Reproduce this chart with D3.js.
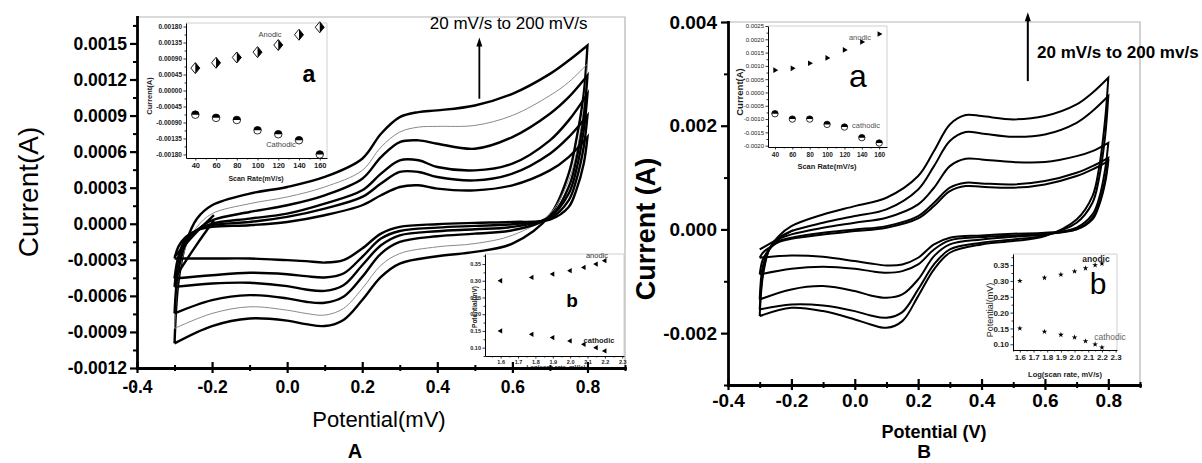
<!DOCTYPE html>
<html><head><meta charset="utf-8">
<script src="https://cdn.jsdelivr.net/npm/d3@7"></script>
<style>
html,body{margin:0;padding:0;background:#fff;}
svg{display:block;}
</style></head><body>
<svg id="chart" width="1202" height="463"></svg>
<script>
// ---------------- DATA ----------------
// potentials (V) of forward (anodic) and reverse (cathodic) sweeps
const potentialForward = [-0.3, -0.29, -0.27, -0.24, -0.2, -0.1, 0.0, 0.1, 0.2, 0.25, 0.3, 0.35, 0.4, 0.5, 0.6, 0.7, 0.75, 0.8];
const potentialReverse = [0.8, 0.79, 0.77, 0.75, 0.7, 0.6, 0.5, 0.4, 0.3, 0.25, 0.2, 0.15, 0.1, 0.05, 0.0, -0.1, -0.2, -0.3];

// Panel A currents (mA), one row per scan rate (largest first)
const cvA_forward_mA = [
  [-0.995, -0.497, -0.165, 0.043, 0.154, 0.251, 0.306, 0.389, 0.541, 0.749, 0.887, 0.929, 0.943, 0.984, 1.081, 1.247, 1.358, 1.483],
  [-0.871, -0.442, -0.192, -0.026, 0.084, 0.167, 0.223, 0.306, 0.444, 0.638, 0.763, 0.804, 0.810, 0.818, 0.901, 1.067, 1.178, 1.330],
  [-0.746, -0.386, -0.165, -0.054, 0.029, 0.098, 0.154, 0.237, 0.375, 0.555, 0.680, 0.694, 0.666, 0.624, 0.721, 0.915, 1.053, 1.233],
  [-0.525, -0.303, -0.137, -0.054, 0.001, 0.043, 0.084, 0.167, 0.278, 0.417, 0.528, 0.528, 0.472, 0.444, 0.500, 0.694, 0.860, 1.081],
  [-0.455, -0.275, -0.123, -0.054, -0.012, 0.015, 0.057, 0.126, 0.223, 0.334, 0.431, 0.431, 0.389, 0.361, 0.417, 0.583, 0.721, 0.901],
  [-0.289, -0.192, -0.109, -0.054, -0.026, -0.012, 0.015, 0.071, 0.154, 0.237, 0.306, 0.320, 0.292, 0.278, 0.320, 0.444, 0.555, 0.721]
];
const cvA_reverse_mA = [
  [1.483, 1.081, 0.694, 0.417, 0.071, -0.165, -0.234, -0.270, -0.331, -0.442, -0.635, -0.800, -0.851, -0.835, -0.806, -0.788, -0.851, -0.995],
  [1.330, 0.970, 0.583, 0.361, 0.084, -0.096, -0.165, -0.192, -0.248, -0.345, -0.539, -0.705, -0.760, -0.746, -0.719, -0.691, -0.746, -0.871],
  [1.233, 0.887, 0.528, 0.306, 0.057, -0.054, -0.082, -0.104, -0.151, -0.248, -0.442, -0.607, -0.657, -0.649, -0.621, -0.594, -0.635, -0.746],
  [1.081, 0.777, 0.444, 0.251, 0.057, -0.026, -0.046, -0.062, -0.096, -0.179, -0.345, -0.511, -0.558, -0.547, -0.519, -0.491, -0.497, -0.525],
  [0.901, 0.638, 0.361, 0.195, 0.043, -0.004, -0.018, -0.032, -0.060, -0.123, -0.275, -0.414, -0.447, -0.436, -0.420, -0.408, -0.428, -0.455],
  [0.721, 0.500, 0.278, 0.140, 0.035, 0.015, 0.007, -0.004, -0.026, -0.082, -0.206, -0.303, -0.323, -0.311, -0.303, -0.289, -0.289, -0.289]
];
// start-of-scan hooks near -0.2 V
const hookPotential = [-0.195, -0.245, -0.3];
const hookA_mA = [[0.071, -0.082, -0.275], [0.029, -0.192, -0.455]];

// Panel B currents (mA)
const cvB_forward_mA = [
  [-1.671, -0.900, -0.386, -0.129, 0.064, 0.289, 0.450, 0.611, 1.029, 1.511, 2.025, 2.205, 2.186, 2.122, 2.186, 2.411, 2.636, 2.925],
  [-1.543, -0.836, -0.386, -0.161, -0.032, 0.129, 0.257, 0.386, 0.771, 1.221, 1.704, 1.877, 1.852, 1.787, 1.832, 2.057, 2.282, 2.572],
  [-1.350, -0.707, -0.386, -0.193, -0.096, 0.032, 0.129, 0.225, 0.482, 0.804, 1.221, 1.363, 1.350, 1.299, 1.299, 1.414, 1.511, 1.671],
  [-0.868, -0.579, -0.386, -0.225, -0.161, -0.064, 0.000, 0.064, 0.257, 0.514, 0.804, 0.900, 0.887, 0.868, 0.932, 1.093, 1.221, 1.382],
  [-0.546, -0.450, -0.354, -0.244, -0.180, -0.096, -0.032, 0.032, 0.212, 0.450, 0.739, 0.836, 0.823, 0.804, 0.868, 1.029, 1.157, 1.318]
];
const cvB_reverse_mA = [
  [2.925, 2.122, 1.157, 0.643, 0.193, -0.129, -0.225, -0.289, -0.450, -0.771, -1.286, -1.768, -1.897, -1.832, -1.736, -1.575, -1.511, -1.671],
  [2.572, 1.800, 0.964, 0.514, 0.129, -0.116, -0.193, -0.257, -0.386, -0.675, -1.157, -1.594, -1.704, -1.659, -1.575, -1.466, -1.446, -1.543],
  [1.671, 1.157, 0.579, 0.289, 0.032, -0.096, -0.141, -0.193, -0.289, -0.514, -0.964, -1.254, -1.318, -1.273, -1.189, -1.093, -1.157, -1.350],
  [1.382, 0.964, 0.482, 0.225, 0.000, -0.084, -0.116, -0.148, -0.212, -0.386, -0.675, -0.804, -0.836, -0.804, -0.759, -0.720, -0.759, -0.868],
  [1.318, 0.900, 0.450, 0.193, 0.000, -0.064, -0.084, -0.116, -0.161, -0.289, -0.546, -0.675, -0.694, -0.656, -0.611, -0.527, -0.501, -0.546]
];
const hookB_mA = [[-0.013, -0.193, -0.386]];

// insets
const scanRates = [40, 60, 80, 100, 120, 140, 160];
const logScanRates = [1.6, 1.78, 1.9, 2.0, 2.08, 2.15, 2.2];
const insetAa_anodic = [0.00063, 0.00078, 0.00093, 0.00108, 0.00128, 0.00157, 0.00178];
const insetAa_cathodic = [-0.00068, -0.00077, -0.00083, -0.00112, -0.00123, -0.0014, -0.0018];
const insetAb_anodic = [0.30, 0.31, 0.32, 0.33, 0.34, 0.35, 0.36];
const insetAb_cathodic = [0.15, 0.14, 0.13, 0.12, 0.11, 0.10, 0.09];
const insetBa_anodic = [0.00084, 0.00091, 0.0011, 0.0013, 0.0016, 0.0019, 0.0022];
const insetBa_cathodic = [-0.0008, -0.001, -0.001, -0.0012, -0.0013, -0.0017, -0.0019];
const insetBb_anodic = [0.30, 0.31, 0.32, 0.33, 0.34, 0.35, 0.355];
const insetBb_cathodic = [0.15, 0.14, 0.13, 0.122, 0.11, 0.10, 0.09];

// tick values
const ticksPotential = [-0.4, -0.2, 0.0, 0.2, 0.4, 0.6, 0.8];
const ticksPotentialMinor = [-0.3, -0.1, 0.1, 0.3, 0.5, 0.7, 0.9];
const ticksA_current = [-0.0012, -0.0009, -0.0006, -0.0003, 0, 0.0003, 0.0006, 0.0009, 0.0012, 0.0015];
const ticksB_current = [-0.002, 0, 0.002, 0.004];
const ticksB_currentMinor = [-0.003, -0.001, 0.001, 0.003];
const ticksAa_y = [-0.0018, -0.00135, -0.0009, -0.00045, 0, 0.00045, 0.0009, 0.00135, 0.0018];
const ticksBa_y = [-0.002, -0.0015, -0.001, -0.0005, 0, 0.0005, 0.001, 0.0015, 0.002, 0.0025];
const ticksScan = [40, 60, 80, 100, 120, 140, 160];
const ticksLog = [1.6, 1.7, 1.8, 1.9, 2.0, 2.1, 2.2, 2.3];
const ticksLogPot = [0.10, 0.15, 0.20, 0.25, 0.30, 0.35];

// annotation arrows: potential, base current, tip current
const arrowA = [0.512, 0.00104, 0.00155];
const arrowB = [0.546, 0.00286, 0.00419];

// ---------------- DRAWING ----------------
const FONT = "Arial, 'Liberation Sans', Helvetica, sans-serif";
const fmt = d3.formatLocale({decimal: ".", thousands: ",", grouping: [3], currency: ["", ""], minus: "-"}).format;
const svg = d3.select("#chart").attr("font-family", FONT);

function mids(a) {
  const m = d3.pairs(a, (p, q) => (p + q) / 2);
  m.unshift(a[0] - (a[1] - a[0]) / 2);
  m.push(a[a.length - 1] + (a[1] - a[0]) / 2);
  return m;
}

function catLine(x, y) {
  return d3.line().x(d => x(d[0])).y(d => y(d[1])).curve(d3.curveCatmullRom.alpha(0.5));
}

function loopPath(x, y, fwd, rev) {
  const line = catLine(x, y);
  const a = line(potentialForward.map((e, j) => [e, fwd[j] / 1000]));
  const b = line(potentialReverse.map((e, j) => [e, rev[j] / 1000]));
  return a + "L" + b.slice(1);
}

function mainPanel(o) {
  const x = d3.scaleLinear().domain(o.xDomain).range([o.left, o.right]);
  const y = d3.scaleLinear().domain(o.yDomain).range([o.bottom, o.top]);
  const g = svg.append("g");
  g.append("path").attr("d", `M${o.left},${o.top}H${o.right}V${o.bottom}`)
    .attr("fill", "none").attr("stroke", "#b5b5b5").attr("stroke-width", 1.2);
  const cg = g.append("g").attr("fill", "none").attr("stroke-linejoin", "miter").attr("stroke-miterlimit", 30);
  o.fwd.forEach((f, i) => {
    const thin = o.thinIndex === i;
    cg.append("path").attr("d", loopPath(x, y, f, o.rev[i]))
      .attr("stroke", thin ? "#8a8a8a" : "#000").attr("stroke-width", thin ? 1 : o.lw);
  });
  const hl = catLine(x, y);
  o.hooks.forEach(h => {
    cg.append("path").attr("d", hl(hookPotential.map((e, j) => [e, h[j] / 1000])))
      .attr("stroke", "#000").attr("stroke-width", o.lw);
  });
  return {x, y, g};
}

function mainAxes(p, o) {
  const {x, y} = p;
  const ax = svg.append("g").attr("font-family", FONT);
  const ym = ax.append("g").attr("transform", `translate(${o.left},0)`)
    .call(d3.axisLeft(y).tickValues(o.yMinor).tickFormat("").tickSize(o.minorLen).tickSizeOuter(0));
  ym.select(".domain").remove();
  ym.selectAll(".tick line").attr("stroke-width", 2);
  const xm = ax.append("g").attr("transform", `translate(0,${o.bottom})`)
    .call(d3.axisBottom(x).tickValues(ticksPotentialMinor).tickFormat("").tickSize(3).tickSizeOuter(0));
  xm.select(".domain").remove();
  xm.selectAll(".tick line").attr("y1", -3).attr("stroke-width", 2);
  const ya = ax.append("g").attr("transform", `translate(${o.left},0)`)
    .call(d3.axisLeft(y).tickValues(o.yTicks).tickFormat(fmt(o.yFmt)).tickSize(o.majorLen).tickSizeOuter(0).tickPadding(o.yPad));
  ya.select(".domain").attr("stroke-width", 2.8).attr("stroke-linecap", "square");
  ya.selectAll(".tick line").attr("stroke-width", 2.2);
  ya.selectAll(".tick text").attr("font-size", o.tickFs).attr("font-weight", "bold").attr("font-family", FONT).attr("fill", "#000");
  const xa = ax.append("g").attr("transform", `translate(0,${o.bottom})`)
    .call(d3.axisBottom(x).tickValues(ticksPotential).tickFormat(fmt(".1f")).tickSize(5).tickSizeOuter(0).tickPadding(o.xPad));
  xa.select(".domain").attr("stroke-width", 2.8).attr("stroke-linecap", "square");
  xa.selectAll(".tick line").attr("y1", -6).attr("stroke-width", 2.2);
  xa.selectAll(".tick text").attr("font-size", o.tickFs).attr("font-weight", "bold").attr("font-family", FONT).attr("fill", "#000");
}

function arrow(p, a, w) {
  const px = p.x(a[0]), y0 = p.y(a[1]), y1 = p.y(a[2]);
  p.g.append("line").attr("x1", px).attr("x2", px).attr("y1", y0).attr("y2", y1 + 6)
    .attr("stroke", "#000").attr("stroke-width", w);
  p.g.append("path").attr("d", `M${px},${y1}L${px - 3},${y1 + 9}L${px + 3},${y1 + 9}Z`).attr("fill", "#000");
}

function inset(o) {
  const x = d3.scaleLinear().domain(o.xDomain).range([o.left, o.right]);
  const y = d3.scaleLinear().domain(o.yDomain).range([o.bottom, o.top]);
  const g = svg.append("g").attr("font-family", FONT);
  g.append("rect").attr("x", o.left).attr("y", o.top).attr("width", o.right - o.left).attr("height", o.bottom - o.top).attr("fill", "#fff");
  g.append("path").attr("d", `M${o.left},${o.top}H${o.right}V${o.bottom}`).attr("fill", "none").attr("stroke", "#c4c4c4").attr("stroke-width", 0.8);
  const ym = g.append("g").attr("transform", `translate(${o.left},0)`)
    .call(d3.axisLeft(y).tickValues(mids(o.yTicks).filter(v => v >= o.yDomain[0] && v <= o.yDomain[1])).tickFormat("").tickSize(1.5).tickSizeOuter(0));
  ym.select(".domain").remove();
  const xm = g.append("g").attr("transform", `translate(0,${o.bottom})`)
    .call(d3.axisBottom(x).tickValues(mids(o.xTicks).filter(v => v >= o.xDomain[0] && v <= o.xDomain[1])).tickFormat("").tickSize(1.5).tickSizeOuter(0));
  xm.select(".domain").remove();
  const ya = g.append("g").attr("transform", `translate(${o.left},0)`)
    .call(d3.axisLeft(y).tickValues(o.yTicks).tickFormat(fmt(o.yFmt)).tickSize(2.5).tickSizeOuter(0).tickPadding(1.5));
  const xa = g.append("g").attr("transform", `translate(0,${o.bottom})`)
    .call(d3.axisBottom(x).tickValues(o.xTicks).tickFormat(fmt(o.xFmt)).tickSize(2.5).tickSizeOuter(0).tickPadding(o.xPad));
  [ya, xa, ym, xm].forEach(a => {
    a.select(".domain").attr("stroke-width", 1);
    a.selectAll(".tick line").attr("stroke-width", 0.8);
  });
  ya.selectAll(".tick text").attr("font-size", o.yFs).attr("font-weight", o.yFw).attr("font-family", FONT).attr("fill", "#222");
  xa.selectAll(".tick text").attr("font-size", o.xFs).attr("font-weight", "bold").attr("font-family", FONT).attr("fill", "#222");
  g.append("text").attr("x", o.xTitle[1]).attr("y", o.xTitle[2]).attr("text-anchor", "middle")
    .attr("font-size", o.xTitle[3]).attr("font-weight", "bold").attr("fill", "#222").text(o.xTitle[0]);
  g.append("text").attr("transform", `translate(${o.yTitle[1]},${o.yTitle[2]}) rotate(-90)`).attr("text-anchor", "middle")
    .attr("dominant-baseline", "central").attr("font-size", o.yTitle[3]).attr("font-weight", o.yTitle[4]).attr("fill", "#222").text(o.yTitle[0]);
  return {x, y, g};
}

function label(g, t, px, py, fs, fw, fill) {
  g.append("text").attr("x", px).attr("y", py).attr("text-anchor", "middle").attr("font-size", fs)
    .attr("font-weight", fw).attr("fill", fill).attr("font-family", FONT).text(t);
}

function halfCircles(p, xs, ys, r) {
  xs.forEach((v, i) => {
    const gg = p.g.append("g").attr("transform", `translate(${p.x(v)},${p.y(ys[i])})`);
    gg.append("circle").attr("r", r).attr("fill", "#fff");
    gg.append("path").attr("d", `M${-r},0A${r},${r} 0 0 1 ${r},0Z`).attr("fill", "#000");
    gg.append("circle").attr("r", r).attr("fill", "none").attr("stroke", "#000").attr("stroke-width", 0.8);
  });
}

function symbols(p, xs, ys, type, size, rot) {
  const sym = d3.symbol().type(type).size(size);
  xs.forEach((v, i) => {
    p.g.append("path").attr("d", sym()).attr("fill", "#000")
      .attr("transform", `translate(${p.x(v)},${p.y(ys[i])}) rotate(${rot})`);
  });
}

// ---------- Panel A ----------
const A = mainPanel({left: 137, right: 625, top: 17, bottom: 368, xDomain: [-0.4, 0.9], yDomain: [-0.0012, 0.00172],
  fwd: cvA_forward_mA, rev: cvA_reverse_mA, hooks: hookA_mA, thinIndex: 1, lw: 2.4});
arrow(A, arrowA, 1.8);
A.g.append("text").attr("x", A.x(0.38)).attr("y", A.y(0.00162)).attr("font-size", 17).attr("fill", "#000").text("20 mV/s to 200 mV/s");

const Aa = inset({left: 186, right: 327, top: 23, bottom: 158, xDomain: [31, 167], yDomain: [-0.0019, 0.0019],
  xTicks: ticksScan, yTicks: ticksAa_y, xFmt: "d", yFmt: ".5f", xFs: 7.5, yFs: 6.5, yFw: "bold", xPad: 2.5,
  xTitle: ["Scan Rate(mV/s)", 256, 181, 7], yTitle: ["Current(A)", 149, 96, 7.5, "bold"]});
scanRates.forEach((v, i) => {
  const gg = Aa.g.append("g").attr("transform", `translate(${Aa.x(v)},${Aa.y(insetAa_anodic[i])})`);
  gg.append("path").attr("d", "M0,-5.5L4.5,0L0,5.5Z").attr("fill", "#000");
  gg.append("path").attr("d", "M0,-5.5L-4.5,0L0,5.5L4.5,0Z").attr("fill", "none").attr("stroke", "#000").attr("stroke-width", 0.9);
});
halfCircles(Aa, scanRates, insetAa_cathodic, 3.8);
label(Aa.g, "Anodic", 270, 37, 7.5, "normal", "#444");
label(Aa.g, "Cathodic", 281, 147, 7.5, "normal", "#444");
label(Aa.g, "a", 309, 82, 23, "bold", "#000");

const Ab = inset({left: 485, right: 624, top: 254, bottom: 356, xDomain: [1.51, 2.31], yDomain: [0.075, 0.38],
  xTicks: ticksLog, yTicks: ticksLogPot, xFmt: ".1f", yFmt: ".2f", xFs: 5.5, yFs: 5.5, yFw: "bold", xPad: 1.5,
  xTitle: ["Log(scan rate, mV/s)", 556, 369, 6], yTitle: ["Potential(mV)", 474, 307, 6.5, "bold"]});
symbols(Ab, logScanRates, insetAb_anodic, d3.symbolTriangle, 12, -90);
symbols(Ab, logScanRates, insetAb_cathodic, d3.symbolTriangle, 12, -90);
label(Ab.g, "anodic", 597, 258, 7.5, "normal", "#333");
label(Ab.g, "cathodic", 599, 343, 7.5, "bold", "#222");
label(Ab.g, "b", 572, 307, 19, "bold", "#000");

mainAxes(A, {left: 137, bottom: 368, yTicks: ticksA_current, yMinor: mids(ticksA_current), yFmt: ".4f",
  majorLen: 7, minorLen: 4, yPad: 3, xPad: 8, tickFs: 17.5});

svg.append("text").attr("transform", "translate(28,192) rotate(-90)").attr("text-anchor", "middle").attr("dominant-baseline", "central")
  .attr("font-size", 28).attr("fill", "#000").text("Current(A)");
label(svg, "Potential(mV)", 379, 427, 22, "normal", "#000");
label(svg, "A", 355, 458, 20, "bold", "#000");

// ---------- Panel B ----------
const B = mainPanel({left: 728, right: 1140, top: 22, bottom: 385, xDomain: [-0.4, 0.9], yDomain: [-0.003, 0.004],
  fwd: cvB_forward_mA, rev: cvB_reverse_mA, hooks: hookB_mA, thinIndex: -1, lw: 2});
arrow(B, arrowB, 2);
B.g.append("text").attr("x", B.x(0.575)).attr("y", B.y(0.003306)).attr("font-size", 17).attr("font-weight", "bold").attr("fill", "#000").text("20 mV/s to 200 mv/s");

const Ba = inset({left: 768, right: 887, top: 26, bottom: 147, xDomain: [32, 169], yDomain: [-0.00205, 0.0025],
  xTicks: ticksScan, yTicks: ticksBa_y, xFmt: "d", yFmt: ".4f", xFs: 6.5, yFs: 6, yFw: "normal", xPad: 2.5,
  xTitle: ["Scan Rate(mV/s)", 827, 169, 7.5], yTitle: ["Current(A)", 739, 92, 9.5, "bold"]});
symbols(Ba, scanRates, insetBa_anodic, d3.symbolTriangle, 14, 90);
halfCircles(Ba, scanRates, insetBa_cathodic, 3.2);
label(Ba.g, "anodic", 860, 40, 7.5, "normal", "#555");
label(Ba.g, "cathodic", 866, 128, 7.5, "normal", "#555");
label(Ba.g, "a", 858, 87, 32, "normal", "#000");

const Bb = inset({left: 1013, right: 1117, top: 254, bottom: 350, xDomain: [1.55, 2.31], yDomain: [0.082, 0.385],
  xTicks: ticksLog, yTicks: ticksLogPot, xFmt: ".1f", yFmt: ".2f", xFs: 8, yFs: 8, yFw: "bold", xPad: 2,
  xTitle: ["Log(scan rate, mV/s)", 1065, 377, 7.5], yTitle: ["Potential(mV)", 990, 310, 9, "normal"]});
symbols(Bb, logScanRates, insetBb_anodic, d3.symbolStar, 10, 0);
symbols(Bb, logScanRates, insetBb_cathodic, d3.symbolStar, 10, 0);
label(Bb.g, "anodic", 1096, 262, 8.5, "bold", "#222");
label(Bb.g, "cathodic", 1110, 340, 8.5, "normal", "#666");
label(Bb.g, "b", 1098, 294, 30, "normal", "#000");

mainAxes(B, {left: 728, bottom: 385, yTicks: ticksB_current, yMinor: ticksB_currentMinor, yFmt: ".3f",
  majorLen: 7, minorLen: 4, yPad: 4, xPad: 4, tickFs: 19});

svg.append("text").attr("transform", "translate(646,229) rotate(-90)").attr("text-anchor", "middle").attr("dominant-baseline", "central")
  .attr("font-size", 27).attr("font-weight", "bold").attr("fill", "#000").text("Current (A)");
label(svg, "Potential (V)", 934, 438, 18, "bold", "#000");
label(svg, "B", 924, 458, 19, "bold", "#000");
</script></body></html>
